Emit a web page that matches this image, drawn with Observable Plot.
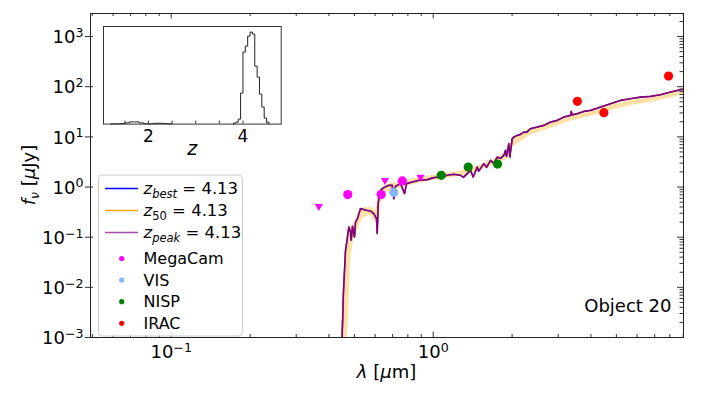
<!DOCTYPE html>
<html><head><meta charset="utf-8">
<script src="https://cdn.jsdelivr.net/npm/d3@7"></script>
<script src="https://cdn.jsdelivr.net/npm/@observablehq/plot@0.6"></script>
<style>
html,body{margin:0;padding:0;background:#fff;}
#wrap{position:relative;width:703px;height:395px;overflow:hidden;}
#insetBox{position:absolute;left:93.3px;top:20.7px;}
</style></head><body><div id="wrap"><div id="insetBox"></div></div>
<script>
// ---------- data ----------
const sedLam = [
 0.4487,0.4546,0.4627,0.4688,0.4763,0.4835,0.4864,0.4920,0.5007,0.5051,
 0.5141,0.5278,0.5434,0.5564,0.5763,0.5933,0.6075,0.6113,0.6166,0.6237,
 0.6348,0.6478,0.6768,0.6974,0.7073,0.7180,0.7503,0.7771,0.7909,0.8314,
 0.8811,0.9103,0.9486,1.0053,1.0663,1.1308,1.1953,1.2709,1.3047,1.3514,
 1.3878,1.4211,1.4725,1.4896,1.5604,1.5979,1.6551,1.6994,1.7555,1.8070,
 1.8602,1.8880,1.9046,1.9431,1.9606,2.0020,2.0303,2.0920,2.1535,2.2170,
 2.2702,2.3515,2.4944,2.6432,2.8038,2.9734,3.1514,3.3420,3.3628,3.3869,
 3.5444,3.7557,3.9848,4.3513,4.7508,5.1867,5.6625,6.1831,6.7514,7.3722,
 8.0496,8.7882,9.0220];
const sedFlux = [
 0.00088,0.00875,0.0548,0.0867,0.1596,0.1252,0.0867,0.1648,0.1009,0.1981,
 0.2378,0.3715,0.3548,0.3434,0.3325,0.2951,0.2347,0.1180,0.4670,0.7949,
 0.8999,0.9728,1.081,1.081,0.5875,1.0326,1.1687,0.7388,1.1687,1.258,
 1.360,1.391,1.404,1.539,1.582,1.711,1.791,1.711,1.561,1.875,
 2.151,1.582,2.502,2.054,2.924,2.469,3.403,2.966,3.959,3.730,
 4.280,5.384,4.088,7.320,3.959,9.208,9.909,10.71,11.21,12.46,
 12.29,14.57,15.67,16.95,19.71,21.32,24.80,26.81,32.21,27.43,
 28.99,32.21,33.73,39.23,45.85,53.36,57.68,62.07,64.10,69.28,
 78.07,87.14,88.35];
const bandLam = [0.4467,0.4546,0.4668,0.4750,0.4835,0.4963,0.5186,0.5372,0.5763,0.6022,
 0.6182,0.6292,0.6574,0.7180,0.8190,1.0026,1.2709,1.5157,1.8070,1.9383,
 2.0075,2.3515,2.8038,3.3420,3.9848,4.7508,5.6625,6.7514,8.0496,9.0220];
const bandHi = [0.00138,0.00875,0.0548,0.109,0.1504,0.1807,0.2608,0.3763,0.394,0.3434,
 0.5433,0.8596,1.081,1.2405,1.4232,1.711,2.054,2.706,4.088,5.384,
 9.335,14.11,19.45,25.61,32.21,42.42,53.36,59.83,73.54,88.35];
const bandLo = [0.0007,0.0007,0.0007,0.00221,0.0316,0.0867,0.1504,0.2378,0.2731,0.1981,
 0.1726,0.4319,0.7490,0.8999,1.081,1.360,1.634,2.151,3.105,3.730,
 6.177,10.71,14.77,20.37,25.61,33.73,42.42,48.69,59.83,70.24];

const megaLam = [0.472,0.633,0.762];
const megaFlux = [0.706,0.706,1.32];
const megaLimLam = [0.366,0.654,0.894];
const megaLimFlux = [0.413,1.36,1.58];
const visLam = [0.707];
const visFlux = [0.78];
const nispLam = [1.073,1.36,1.76];
const nispFlux = [1.71,2.50,2.87];
const iracLam = [3.55,4.48,7.91];
const iracFlux = [51.0,30.3,163];

const zBest = 4.13, z50 = 4.13, zPeak = 4.13;
const objectName = "Object 20";

// p(z) histogram (left bin edges, counts)
const peakZ = [3.80,3.85,3.90,3.95,4.00,4.05,4.10,4.15,4.20,4.25,4.30,4.35,4.40,4.45,4.50];
const peakN = [1,2,5,31,72,78,88,92,90,58,47,30,17,6,2];
const lowZ = [1.2,1.3,1.4,1.5,1.6,1.7,1.8,1.9,2.0,2.1,2.2,2.3,2.4];
const lowN = [0.3,0.3,0.5,1.2,2.2,2.2,1.2,0.4,0.3,0.8,0.8,0.6,0.3];

const xMajor = [0.1, 1];
const yMajor = [1e-3,1e-2,1e-1,1,10,100,1000];
const zTickLabels = [2, 4];
const zMinor = [1.5,2,2.5,3,3.5,4,4.5];

// ---------- helpers ----------
const xDom = [0.0492, 9.02], yDom = [1e-3, 2880];
const W = 703, H = 395, mL = 90, mR = 20, mT = 13, mB = 58;
const fw = W - mL - mR, fh = H - mT - mB;
const minors = (lo, hi) => { const o=[]; for (let d=-4; d<=4; d++) for (let k=2;k<=9;k++){const v=k*Math.pow(10,d); if(v>lo&&v<hi) o.push(v);} return o; };
const xMinor = minors(xDom[0], xDom[1]);
const yMinor = minors(yDom[0], yDom[1]);
const expLabel = v => "10^" + String(Math.round(Math.log10(v))).replace("-", "\u2212");
const zip = (a,b) => a.map((v,i)=>({x:v, y:b[i]}));
const sed = zip(sedLam, sedFlux);
const band = bandLam.map((v,i)=>({x:v, lo:bandLo[i], hi:bandHi[i]}));
const tickStroke = "#333";

const main = Plot.plot({
  width: W, height: H, marginLeft: mL, marginRight: mR, marginTop: mT, marginBottom: mB,
  x: {type: "log", domain: xDom, axis: null},
  y: {type: "log", domain: yDom, axis: null},
  style: {fontFamily: "DejaVu Sans", fontSize: "18px", background: "white", color: "black"},
  marks: [
    Plot.areaY(band, {x: "x", y1: "lo", y2: "hi", fill: "orange", fillOpacity: 0.35, clip: true}),
    Plot.line(sed, {x: "x", y: "y", stroke: "blue", strokeWidth: 1.3, clip: true}),
    Plot.line(sed, {x: "x", y: "y", stroke: "orange", strokeWidth: 1.3, clip: true}),
    Plot.line(sed, {x: "x", y: "y", stroke: "purple", strokeWidth: 1.6, clip: true}),
    Plot.dot(zip(megaLam, megaFlux), {x: "x", y: "y", r: 4.6, fill: "magenta"}),
    Plot.dot(zip(megaLimLam, megaLimFlux), {x: "x", y: "y", r: 3, symbol: "triangle", rotate: 180, fill: "magenta"}),
    Plot.dot(zip(visLam, visFlux), {x: "x", y: "y", r: 4.6, fill: "#8ab4f4"}),
    Plot.dot(zip(nispLam, nispFlux), {x: "x", y: "y", r: 4.6, fill: "green"}),
    Plot.dot(zip(iracLam, iracFlux), {x: "x", y: "y", r: 4.6, fill: "red"}),
    // ticks (inward, matplotlib style)
    Plot.tickX(xMajor, {x: d => d, insetTop: fh - 5.5, stroke: tickStroke}),
    Plot.tickX(xMinor, {x: d => d, insetTop: fh - 3, stroke: tickStroke}),
    Plot.tickX(xMajor, {x: d => d, insetBottom: fh - 5.5, stroke: tickStroke}),
    Plot.tickX(xMinor, {x: d => d, insetBottom: fh - 3, stroke: tickStroke}),
    Plot.tickY(yMajor, {y: d => d, insetLeft: -5, insetRight: fw - 3, stroke: tickStroke}),
    Plot.tickY(yMajor, {y: d => d, insetLeft: fw - 6, stroke: tickStroke}),
    Plot.tickY(yMinor, {y: d => d, insetLeft: fw - 3.5, stroke: tickStroke}),
    Plot.frame({stroke: "#222", strokeWidth: 1}),
    Plot.text(xMajor, {x: d => d, text: expLabel, frameAnchor: "bottom", lineAnchor: "top", dy: 8, fontSize: 18}),
    Plot.text(yMajor, {y: d => d, text: expLabel, frameAnchor: "left", textAnchor: "end", dx: -7, dy: 1, fontSize: 18}),
    Plot.text([objectName], {frameAnchor: "bottom-right", textAnchor: "end", dx: -12, dy: -26, fontSize: 18})
  ]
});
document.getElementById("wrap").prepend(main);

const S = d3.select(main);
S.selectAll("text").filter(function () { return this.textContent.includes("^"); }).each(function () {
  const t = d3.select(this); const [b, e] = t.text().split("^");
  t.text(null);
  t.append("tspan").text(b);
  t.append("tspan").attr("dy", "-0.5em").attr("font-size", "0.7em").text(e);
});

// axis labels
const xl = S.append("text").attr("x", mL + fw / 2).attr("y", 378).attr("text-anchor", "middle").attr("font-size", 18);
xl.append("tspan").attr("font-style", "italic").text("\u03bb");
xl.append("tspan").text(" [");
xl.append("tspan").attr("font-style", "italic").text("\u03bc");
xl.append("tspan").text("m]");
const yl = S.append("text").attr("transform", `translate(29,${mT + fh / 2}) rotate(-90)`).attr("text-anchor", "middle").attr("font-size", 18).attr("dy", "0.35em");
yl.append("tspan").attr("font-style", "italic").text("f");
yl.append("tspan").attr("font-style", "italic").attr("font-size", 12.5).attr("dy", 4).text("\u03bd");
yl.append("tspan").attr("dy", -4).text(" [");
yl.append("tspan").attr("font-style", "italic").text("\u03bc");
yl.append("tspan").text("Jy]");

// legend
const lg = S.append("g").attr("font-size", 16).attr("text-anchor", "start");
lg.append("rect").attr("x", 98.5).attr("y", 175).attr("width", 144).attr("height", 161).attr("rx", 4)
  .attr("fill", "white").attr("fill-opacity", 0.8).attr("stroke", "#cccccc");
const lineItems = [
  {c: "blue", sub: "best", it: true, v: zBest},
  {c: "orange", sub: "50", it: false, v: z50},
  {c: "#a64ca6", sub: "peak", it: true, v: zPeak}
];
lineItems.forEach((d, i) => {
  const y = 188.5 + i * 22;
  lg.append("line").attr("x1", 105).attr("x2", 138).attr("y1", y).attr("y2", y).attr("stroke", d.c).attr("stroke-width", 1.5);
  const t = lg.append("text").attr("x", 143.5).attr("y", y).attr("dy", "0.35em").attr("text-anchor", "start").attr("font-size", 16.5);
  t.append("tspan").attr("font-style", "italic").text("z");
  t.append("tspan").attr("font-style", d.it ? "italic" : "normal").attr("font-size", 11.5).attr("dy", 4).text(d.sub);
  t.append("tspan").attr("dy", -4).text(" = " + d.v.toFixed(2));
});
const dotItems = [["magenta", "MegaCam"], ["#8ab4f4", "VIS"], ["green", "NISP"], ["red", "IRAC"]];
dotItems.forEach((d, i) => {
  const y = 258.5 + i * 21.6;
  lg.append("circle").attr("cx", 121.7).attr("cy", y).attr("r", 2.6).attr("fill", d[0]);
  lg.append("text").attr("x", 143.5).attr("y", y).attr("dy", "0.35em").attr("text-anchor", "start").text(d[1]);
});

// ---------- inset p(z) ----------
const IW = 200, IH = 140, iL = 10, iT = 5, iFW = 177.7, iFH = 97.6;
function outline(edges, counts, w) {
  const pts = [{z: edges[0], n: 0}];
  edges.forEach((e, i) => { pts.push({z: e, n: counts[i]}); pts.push({z: e + w, n: counts[i]}); });
  pts.push({z: edges[edges.length - 1] + w, n: 0});
  return pts;
}
const inset = Plot.plot({
  width: IW, height: IH, marginLeft: iL, marginTop: iT, marginRight: IW - iL - iFW, marginBottom: IH - iT - iFH,
  x: {domain: [1.047, 4.81], axis: null},
  y: {domain: [0, 97.6], axis: null},
  style: {fontFamily: "DejaVu Sans", fontSize: "17px", background: "transparent", color: "black"},
  marks: [
    Plot.frame({fill: "white", stroke: null}),
    Plot.line(outline(lowZ, lowN, 0.1), {x: "z", y: "n", stroke: "#222", strokeWidth: 1}),
    Plot.line(outline(peakZ, peakN, 0.05), {x: "z", y: "n", stroke: "#222", strokeWidth: 1}),
    Plot.tickX(zMinor, {x: d => d, insetTop: iFH - 3, stroke: tickStroke}),
    Plot.frame({stroke: "#333", strokeWidth: 1}),
    Plot.text(zTickLabels, {x: d => d, text: d => String(d), frameAnchor: "bottom", lineAnchor: "top", dy: 6, fontSize: 17}),
    Plot.text(["z"], {frameAnchor: "bottom", lineAnchor: "top", dy: 17, fontSize: 19, fontStyle: "italic"})
  ]
});
document.getElementById("insetBox").appendChild(inset);
</script>
</body></html>
